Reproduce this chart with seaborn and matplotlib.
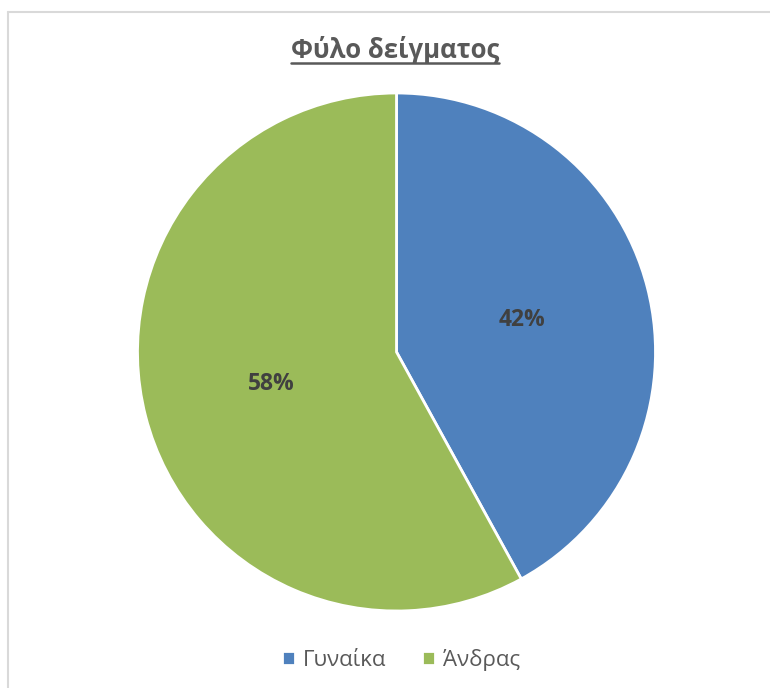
import matplotlib
matplotlib.use("Agg")
import matplotlib.pyplot as plt
from matplotlib.lines import Line2D
import seaborn as sns

# Sample composition by sex
categories = ["Γυναίκα", "Άνδρας"]
shares = [42, 58]
title_text = "Φύλο δείγματος"

sns.set_theme(style="white")
plt.rcParams["font.family"] = ["Open Sans", "DejaVu Sans"]

palette = sns.color_palette(["#4F81BD", "#9BBB59"])

W, H = 770, 688
fig = plt.figure(figsize=(W / 100, H / 100), dpi=100)
fig.patch.set_facecolor("white")

# light frame along top and left edges of the chart area
frame_color = "#D9D9D9"
fig.add_artist(Line2D([8 / W, 8 / W], [0, 1 - 12 / H], transform=fig.transFigure,
                      color=frame_color, lw=1.5))
fig.add_artist(Line2D([8 / W, 1], [1 - 12 / H, 1 - 12 / H], transform=fig.transFigure,
                      color=frame_color, lw=1.5))

cx, cy, r = 396.5, 352, 259
ax = fig.add_axes([(cx - r) / W, (H - cy - r) / H, 2 * r / W, 2 * r / H])

wedges, texts, autotexts = ax.pie(
    shares,
    colors=palette,
    startangle=90,
    counterclock=False,
    autopct="%1.0f%%",
    pctdistance=0.5,
    wedgeprops=dict(edgecolor="white", linewidth=2),
    textprops=dict(color="#404040", fontsize=16.5, fontweight="bold"),
)
ax.set_xlim(-1, 1)
ax.set_ylim(-1, 1)
ax.set_aspect("equal")
ax.axis("off")

# title with underline
title = fig.text(395 / W, 1 - 50 / H, title_text, ha="center", va="center",
                 fontsize=18.5, fontweight="bold", color="#595959")
fig.canvas.draw()
bb = title.get_window_extent().transformed(fig.transFigure.inverted())
uy = bb.y0 + 0.001
fig.add_artist(Line2D([bb.x0, bb.x1], [uy, uy], transform=fig.transFigure,
                      color="#595959", lw=1.8))

leg = fig.legend(
    wedges, categories,
    loc="center", bbox_to_anchor=(401 / W, 1 - 660 / H),
    ncol=2, frameon=False,
    handlelength=0.6, handleheight=0.6, handletextpad=0.35, columnspacing=1.6,
    prop=dict(size=16),
)
for t in leg.get_texts():
    t.set_color("#595959")

fig.savefig("out.png", dpi=100, facecolor="white")
